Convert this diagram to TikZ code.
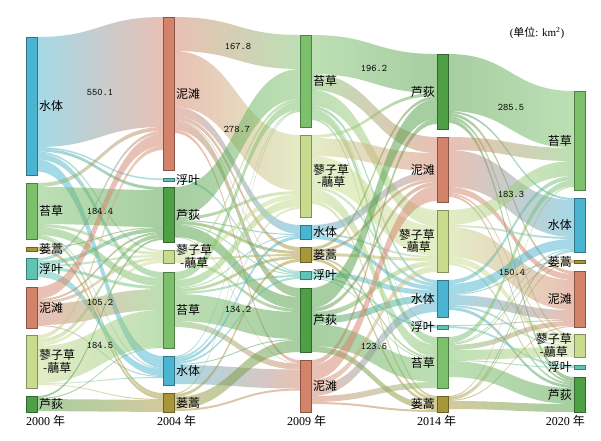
\documentclass[tikz,border=0pt]{standalone}
\usepackage{fontspec}
\setmainfont{Liberation Serif}
\newfontfamily\cjk{Noto Sans CJK SC}
\usetikzlibrary{calc}
\pgfdeclarelayer{bg}
\pgfsetlayers{bg,main}
\definecolor{cSH}{HTML}{4BB4D0}% water
\definecolor{cNT}{HTML}{D4836B}% mudflat
\definecolor{cTC}{HTML}{7DC06C}% carex
\definecolor{cLD}{HTML}{4F9F45}% reed
\definecolor{cLY}{HTML}{C9DC8E}% polygonum-phalaris
\definecolor{cLH}{HTML}{A8973A}% artemisia
\definecolor{cFY}{HTML}{5EC4B4}% floating leaf
\newcommand\sknode[7]{%
  \node[skbar, fill=#5, draw=#5!65!black, minimum height=#4pt] (#1) at (#2,#3) {};
  \expandafter\gdef\csname so@#1\endcsname{0}%
  \expandafter\gdef\csname ti@#1\endcsname{0}%
  \expandafter\gdef\csname cl@#1\endcsname{#5}%
  \ifx r#6 \node[sklab, anchor=west] (l#1) at ($(#1.east)+(1.5,0)$) {#7};
  \else \node[sklab, anchor=east] (l#1) at ($(#1.west)+(-1.5,0)$) {#7};\fi
}
\newcommand\sk[3]{%
  \edef\skso{\csname so@#1\endcsname}%
  \edef\skti{\csname ti@#2\endcsname}%
  \edef\skca{\csname cl@#1\endcsname}%
  \edef\skcb{\csname cl@#2\endcsname}%
  \colorlet{skA}{\skca}\colorlet{skB}{\skcb}%
  \path (#1.north east) ++(0,\skso) coordinate (s1) ++(0,#3) coordinate (s2);
  \path (#2.north west) ++(0,\skti) coordinate (t1) ++(0,#3) coordinate (t2);
  \path ($(s1)!0.5!(t1)$) coordinate (mm);
  \shade[skflow] (s1) .. controls (s1 -| mm) and (t1 -| mm) .. (t1) -- (t2)
     .. controls (t2 -| mm) and (s2 -| mm) .. (s2) -- cycle;
  \pgfmathsetmacro\sktmp{\skso+#3}%
  \expandafter\xdef\csname so@#1\endcsname{\sktmp}%
  \pgfmathsetmacro\sktmp{\skti+#3}%
  \expandafter\xdef\csname ti@#2\endcsname{\sktmp}%
}
\begin{document}
\begin{tikzpicture}[x=1pt,y=-1pt,
  skbar/.style={rectangle, inner sep=0pt, outer sep=0pt, minimum width=11pt, anchor=north west, line width=0.6pt},
  sklab/.style={font=\cjk\fontsize{12}{12.5}\selectfont, inner sep=0.5pt, align=center, text=black},
  sknum/.style={font=\ttfamily\fontsize{10}{11}\selectfont, inner sep=0pt, text=black},
  skyear/.style={font=\fontsize{12}{13}\selectfont, inner sep=0pt},
  skunit/.style={font=\fontsize{11}{12}\selectfont, inner sep=0pt},
  skflow/.style={left color=skA, right color=skB, fill opacity=0.5}]
\useasboundingbox (0,0) rectangle (601,440);
% 2000
\sknode{a1}{26}{37}{138}{cSH}{r}{水体}
\sknode{a2}{26}{183}{56}{cTC}{r}{苔草}
\sknode{a3}{26}{247}{4}{cLH}{r}{蒌蒿}
\sknode{a4}{26}{258}{21}{cFY}{r}{浮叶}
\sknode{a5}{26}{287}{41}{cNT}{r}{泥滩}
\sknode{a6}{26}{335}{53}{cLY}{r}{蓼子草\\-虉草}
\sknode{a7}{26}{396}{16}{cLD}{r}{芦荻}
% 2004
\sknode{b1}{163}{17}{153}{cNT}{r}{泥滩}
\sknode{b2}{163}{178.5}{2.5}{cFY}{r}{浮叶}
\sknode{b3}{163}{187}{55}{cLD}{r}{芦荻}
\sknode{b4}{163}{250}{13}{cLY}{r}{蓼子草\\-虉草}
\sknode{b5}{163}{272}{76}{cTC}{r}{苔草}
\sknode{b6}{163}{356}{29}{cSH}{r}{水体}
\sknode{b7}{163}{393}{19}{cLH}{r}{蒌蒿}
% 2009
\sknode{c1}{300}{35}{92}{cTC}{r}{苔草}
\sknode{c2}{300}{135}{82}{cLY}{r}{蓼子草\\-虉草}
\sknode{c3}{300}{225}{14}{cSH}{r}{水体}
\sknode{c4}{300}{247}{15}{cLH}{r}{蒌蒿}
\sknode{c5}{300}{271}{8}{cFY}{r}{浮叶}
\sknode{c6}{300}{288}{64}{cLD}{r}{芦荻}
\sknode{c7}{300}{360}{52}{cNT}{r}{泥滩}
% 2014
\sknode{d1}{437}{54}{75}{cLD}{l}{芦荻}
\sknode{d2}{437}{137}{65}{cNT}{l}{泥滩}
\sknode{d3}{437}{210}{62}{cLY}{l}{蓼子草\\-虉草}
\sknode{d4}{437}{280}{37}{cSH}{l}{水体}
\sknode{d5}{437}{325}{4}{cFY}{l}{浮叶}
\sknode{d6}{437}{337}{51}{cTC}{l}{苔草}
\sknode{d7}{437}{396}{16}{cLH}{l}{蒌蒿}
% 2020
\sknode{e1}{574}{91}{99}{cTC}{l}{苔草}
\sknode{e2}{574}{198}{54}{cSH}{l}{水体}
\sknode{e3}{574}{260}{3}{cLH}{l}{蒌蒿}
\sknode{e4}{574}{271}{56}{cNT}{l}{泥滩}
\sknode{e5}{574}{334}{23}{cLY}{l}{蓼子草\\-虉草}
\sknode{e6}{574}{365}{4}{cFY}{l}{浮叶}
\sknode{e7}{574}{377}{35}{cLD}{l}{芦荻}
\begin{pgfonlayer}{bg}
\fill[white] (0,0) rectangle (601,440);
% 2000 -> 2004
\sk{a1}{b1}{110}\sk{a1}{b2}{1.5}\sk{a1}{b3}{3}\sk{a1}{b4}{2}\sk{a1}{b5}{6}\sk{a1}{b6}{12}
\sk{a2}{b1}{4}\sk{a2}{b3}{37}\sk{a2}{b4}{3}\sk{a2}{b5}{8}\sk{a2}{b6}{1}\sk{a2}{b7}{3}
\sk{a3}{b3}{1}\sk{a3}{b7}{3}
\sk{a4}{b1}{3}\sk{a4}{b3}{4}\sk{a4}{b4}{2}\sk{a4}{b5}{3}\sk{a4}{b6}{7}
\sk{a5}{b1}{12}\sk{a5}{b3}{2}\sk{a5}{b4}{3}\sk{a5}{b5}{21}\sk{a5}{b6}{1}
\sk{a6}{b1}{4}\sk{a6}{b3}{4}\sk{a6}{b4}{3}\sk{a6}{b5}{37}\sk{a6}{b6}{1}\sk{a6}{b7}{1}
\sk{a7}{b3}{2}\sk{a7}{b5}{1}\sk{a7}{b7}{12}
% 2004 -> 2009
\sk{b1}{c1}{34}\sk{b1}{c2}{56}\sk{b1}{c3}{9}\sk{b1}{c4}{4}\sk{b1}{c5}{1}\sk{b1}{c6}{9}\sk{b1}{c7}{3}
\sk{b2}{c5}{2}
\sk{b3}{c1}{30}\sk{b3}{c2}{3}\sk{b3}{c3}{1}\sk{b3}{c4}{3}\sk{b3}{c5}{1}\sk{b3}{c6}{12}\sk{b3}{c7}{0.5}
\sk{b4}{c1}{3}\sk{b4}{c2}{5}\sk{b4}{c4}{2}\sk{b4}{c6}{3}
\sk{b5}{c1}{8}\sk{b5}{c2}{8}\sk{b5}{c3}{1}\sk{b5}{c4}{3}\sk{b5}{c5}{2}\sk{b5}{c6}{27}\sk{b5}{c7}{6}
\sk{b6}{c1}{1}\sk{b6}{c2}{2}\sk{b6}{c3}{3}\sk{b6}{c5}{2}\sk{b6}{c6}{1}\sk{b6}{c7}{19}
\sk{b7}{c1}{1}\sk{b7}{c4}{3}\sk{b7}{c6}{12}\sk{b7}{c7}{2}
% 2009 -> 2014
\sk{c1}{d1}{39}\sk{c1}{d2}{16}\sk{c1}{d3}{16}\sk{c1}{d4}{3}\sk{c1}{d5}{1}\sk{c1}{d6}{8}\sk{c1}{d7}{2}
\sk{c2}{d1}{3}\sk{c2}{d2}{18}\sk{c2}{d3}{30}\sk{c2}{d4}{3}\sk{c2}{d6}{12}\sk{c2}{d7}{3}
\sk{c3}{d2}{8}\sk{c3}{d3}{2}\sk{c3}{d4}{4}
\sk{c4}{d1}{3}\sk{c4}{d2}{3}\sk{c4}{d3}{3}\sk{c4}{d6}{2}\sk{c4}{d7}{3}
\sk{c5}{d4}{5}\sk{c5}{d5}{2}\sk{c5}{d6}{1}
\sk{c6}{d1}{20}\sk{c6}{d2}{4}\sk{c6}{d3}{5}\sk{c6}{d4}{7}\sk{c6}{d6}{22}\sk{c6}{d7}{6}
\sk{c7}{d1}{5}\sk{c7}{d2}{15}\sk{c7}{d3}{6}\sk{c7}{d4}{10}\sk{c7}{d6}{6}\sk{c7}{d7}{2}
% 2014 -> 2020
\sk{d1}{e1}{57}\sk{d1}{e2}{2}\sk{d1}{e4}{3}\sk{d1}{e5}{3}\sk{d1}{e7}{4}
\sk{d2}{e1}{13}\sk{d2}{e2}{37}\sk{d2}{e4}{6}\sk{d2}{e5}{2}\sk{d2}{e7}{2}
\sk{d3}{e1}{15}\sk{d3}{e2}{2}\sk{d3}{e4}{30}\sk{d3}{e5}{6}\sk{d3}{e7}{2}
\sk{d4}{e1}{4}\sk{d4}{e2}{10}\sk{d4}{e3}{1}\sk{d4}{e4}{10}\sk{d4}{e5}{2}\sk{d4}{e7}{3}
\sk{d5}{e4}{1}\sk{d5}{e6}{2}
\sk{d6}{e1}{6}\sk{d6}{e2}{1}\sk{d6}{e3}{1}\sk{d6}{e4}{5}\sk{d6}{e5}{10}\sk{d6}{e6}{1}\sk{d6}{e7}{16}
\sk{d7}{e1}{1}\sk{d7}{e2}{2}\sk{d7}{e3}{1}\sk{d7}{e4}{1}\sk{d7}{e7}{8}
\end{pgfonlayer}
% flow values
\node[sknum] (v1) at (100,92) {550.1};
\node[sknum] (v2) at (100,211) {184.4};
\node[sknum] (v3) at (100,302) {105.2};
\node[sknum] (v4) at (100,345) {184.5};
\node[sknum] (v5) at (238,46) {167.8};
\node[sknum] (v6) at (237,129) {278.7};
\node[sknum] (v7) at (238,309) {134.2};
\node[sknum] (v8) at (374,68) {196.2};
\node[sknum] (v9) at (511,107) {285.5};
\node[sknum] (v10) at (511,194) {183.3};
\node[sknum] (v11) at (512,272) {150.4};
\node[sknum] (v12) at (374,346) {123.6};
% years
\node[skyear, anchor=west] (y1) at (26,421) {2000 {\cjk 年}};
\node[skyear, anchor=west] (y2) at (157,421) {2004 {\cjk 年}};
\node[skyear, anchor=west] (y3) at (287,421) {2009 {\cjk 年}};
\node[skyear, anchor=west] (y4) at (417,421) {2014 {\cjk 年}};
\node[skyear, anchor=east] (y5) at (585,421) {2020 {\cjk 年}};
\node[skunit] (unit) at (537,33) {({\cjk 单位}: km\textsuperscript{2})};
\end{tikzpicture}
\end{document}
